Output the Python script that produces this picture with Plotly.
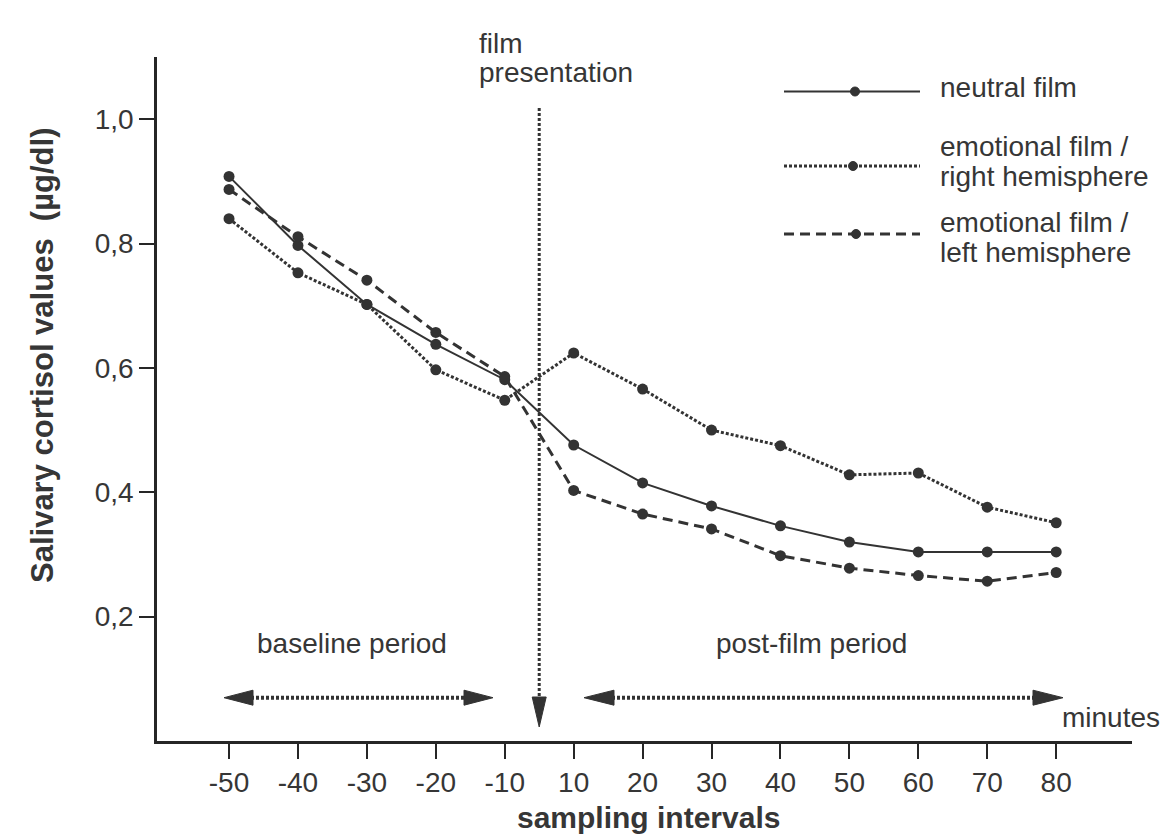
import plotly.graph_objects as go

# ---------------- data ----------------
minutes = ["-50", "-40", "-30", "-20", "-10", "10", "20", "30", "40", "50", "60", "70", "80"]
neutral_film = [0.908, 0.797, 0.702, 0.638, 0.581, 0.476, 0.415, 0.378, 0.346, 0.320, 0.304, 0.304, 0.304]
emotional_right = [0.840, 0.753, 0.702, 0.597, 0.548, 0.624, 0.566, 0.500, 0.475, 0.428, 0.431, 0.376, 0.351]
emotional_left = [0.887, 0.811, 0.741, 0.657, 0.586, 0.403, 0.365, 0.341, 0.298, 0.278, 0.266, 0.257, 0.271]
y_tickvals = [0.2, 0.4, 0.6, 0.8, 1.0]
y_ticktext = ["0,2", "0,4", "0,6", "0,8", "1,0"]
series_names = ["neutral film", "emotional film / right hemisphere", "emotional film / left hemisphere"]

# ---------------- layout geometry ----------------
W, H = 1173, 834
L, R, T, B = 157, 41, 57, 93
PW, PH = W - L - R, H - T - B
XMIN, XMAX = -1.045, 13.1
YMIN, YMAX = 0.0, 1.1

FONT = "Liberation Sans, Arial, Helvetica, sans-serif"
TXT = "#363636"
LC = "#333333"
AX = "#262626"
FS = 28


def px(x):
    return (x - L) / PW


def py(y):
    return (H - B - y) / PH


def idx_px(i):
    return L + (i - XMIN) * PW / (XMAX - XMIN)


fig = go.Figure()

styles = [
    dict(color=LC, width=2),
    dict(color=LC, width=3, dash="3px,2px"),
    dict(color=LC, width=3, dash="10px,6px"),
]
for name, vals, st in zip(series_names, [neutral_film, emotional_right, emotional_left], styles):
    fig.add_trace(go.Scatter(
        x=minutes, y=vals, mode="lines+markers", name=name,
        line=st, marker=dict(size=11, color=LC), showlegend=False,
    ))

shapes = []
dot = "3px,2px"

# film presentation vertical line with arrow head
fx = idx_px(4.5)
shapes.append(dict(type="line", xref="paper", yref="paper", x0=px(fx), x1=px(fx),
                   y0=py(108), y1=py(699), line=dict(color=LC, width=3, dash=dot)))
shapes.append(dict(type="path", xref="paper", yref="paper",
                   path=f"M {px(fx-7)},{py(697)} L {px(fx+7)},{py(697)} L {px(fx)},{py(727)} Z",
                   fillcolor=LC, line=dict(color=LC, width=1)))


def double_arrow(xl, xr, y, head=29, half=7.5):
    out = []
    out.append(dict(type="line", xref="paper", yref="paper", x0=px(xl + head - 2), x1=px(xr - head + 2),
                    y0=py(y), y1=py(y), line=dict(color=LC, width=4, dash=dot)))
    out.append(dict(type="path", xref="paper", yref="paper",
                    path=f"M {px(xl)},{py(y)} L {px(xl+head)},{py(y-half)} L {px(xl+head)},{py(y+half)} Z",
                    fillcolor=LC, line=dict(color=LC, width=1)))
    out.append(dict(type="path", xref="paper", yref="paper",
                    path=f"M {px(xr)},{py(y)} L {px(xr-head)},{py(y-half)} L {px(xr-head)},{py(y+half)} Z",
                    fillcolor=LC, line=dict(color=LC, width=1)))
    return out


shapes += double_arrow(224, 493, 697.7)
shapes += double_arrow(584, 1063, 697.7, head=30)

# legend samples
leg = [(91.5, 855, styles[0]), (166, 853, styles[1]), (234, 856, styles[2])]
for ly, mx, st in leg:
    shapes.append(dict(type="line", xref="paper", yref="paper", x0=px(784), x1=px(920),
                       y0=py(ly), y1=py(ly), line=st))
    shapes.append(dict(type="circle", xref="paper", yref="paper",
                       x0=px(mx - 4.5), x1=px(mx + 4.5), y0=py(ly - 4.5), y1=py(ly + 4.5),
                       fillcolor=LC, line=dict(color=LC, width=1)))


def txt(text, x, baseline, anchor="left", size=FS, bold=False):
    c = baseline - 0.3465 * size
    t = f"<b>{text}</b>" if bold else text
    return dict(text=t, x=px(x), y=py(c), xref="paper", yref="paper", xanchor=anchor,
                yanchor="middle", showarrow=False, font=dict(family=FONT, size=size, color=TXT))


annotations = [
    txt("film", 477, 53),
    txt("presentation", 477, 82),
    txt("neutral film", 938, 97),
    txt("emotional film /", 938, 156),
    txt("right hemisphere", 938, 186),
    txt("emotional film /", 938, 232),
    txt("left hemisphere", 938, 262),
    txt("baseline period", 352, 653, anchor="center"),
    txt("post-film period", 811, 653, anchor="center"),
    txt("minutes", 1060, 727),
]
annotations.append(txt("sampling intervals", 648, 828, anchor="center", size=30, bold=True))
annotations.append(dict(text="<b>Salivary cortisol values  (µg/dl)</b>", x=px(42), y=py(356),
                        xref="paper", yref="paper", xanchor="center", yanchor="middle",
                        textangle=-90, showarrow=False,
                        font=dict(family=FONT, size=31, color=TXT)))

fig.update_layout(
    width=W, height=H,
    margin=dict(l=L, r=R, t=T, b=B, pad=0),
    paper_bgcolor="white", plot_bgcolor="white",
    font=dict(family=FONT, size=FS, color=TXT),
    shapes=shapes, annotations=annotations,
    xaxis=dict(type="category", categoryorder="array", categoryarray=minutes,
               range=[XMIN, XMAX], showline=True, linecolor=AX, linewidth=2.5,
               ticks="outside", ticklen=15, tickwidth=2, tickcolor=AX,
               tickfont=dict(family=FONT, size=FS, color=TXT),
               showgrid=False, zeroline=False, fixedrange=True),
    yaxis=dict(range=[YMIN, YMAX], tickvals=y_tickvals, ticktext=y_ticktext,
               showline=True, linecolor=AX, linewidth=2.5,
               ticks="outside", ticklen=15, tickwidth=2, tickcolor=AX,
               tickfont=dict(family=FONT, size=FS, color=TXT),
               showgrid=False, zeroline=False, fixedrange=True),
)

fig.write_html("out.html", config={"displayModeBar": False},
               post_script="document.body.style.margin='0';document.body.style.overflow='hidden';")
